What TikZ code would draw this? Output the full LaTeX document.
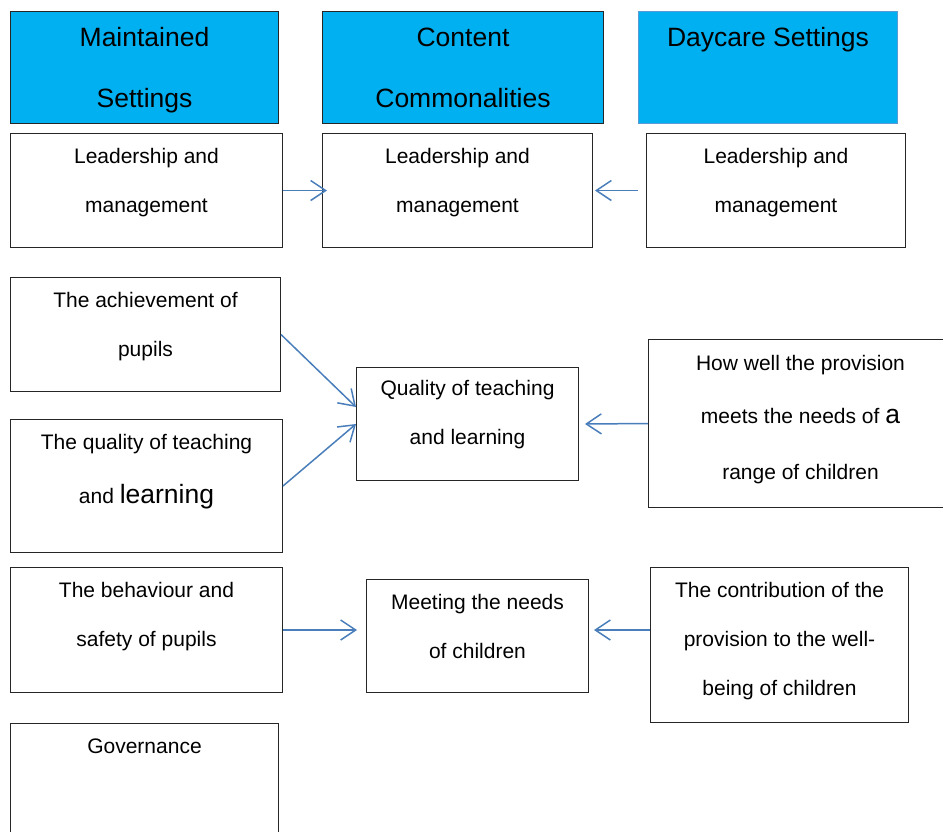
\documentclass[tikz,border=0pt]{standalone}
\usepackage{fontspec}
\setmainfont{Liberation Sans}
\usetikzlibrary{arrows.meta}
\definecolor{headblue}{HTML}{00B0F0}
\definecolor{linkblue}{HTML}{4A7EBB}
\definecolor{dayline}{HTML}{5B9BD5}
\def\celltext#1#2#3#4{\parbox[t][#2][t]{#1}{\centering\rule{0pt}{#3}#4}}

\begin{document}
\begin{tikzpicture}[x=1pt,y=-1pt,
	cell/.style={draw=black!85,line width=1pt,inner sep=0pt,anchor=north west,font=\fontsize{21}{49}\selectfont},
	head/.style={cell,fill=headblue,font=\fontsize{26.5}{61}\selectfont},
	link/.style={draw=linkblue,line width=1.5pt,-{Straight Barb[length=15pt,width=20pt]}}]
				%%%%% START %%%%%
				\clip (0,0) rectangle (943,831);
				
				% headings
				\node[head] (mhead) at (10,11) {\celltext{268pt}{112pt}{35pt}{Maintained\\Settings}};
				\node[head] (chead) at (322,11) {\celltext{281pt}{112pt}{35pt}{Content\\Commonalities}};
				\node[head,draw=dayline] (dhead) at (638,11) {\celltext{259pt}{112pt}{35pt}{Daycare Settings}};
				
				% maintained settings
				\node[cell] (mlead) at (10,133) {\celltext{272pt}{114pt}{30pt}{Leadership and\\management}};
				\node[cell] (ach) at (10,277) {\celltext{270pt}{114pt}{30pt}{The achievement of\\pupils}};
				\node[cell] (mqual) at (10,419) {\celltext{272pt}{133pt}{30pt}{The quality of teaching\\[5pt]and {\fontsize{26.5}{49}\selectfont learning}}};
				\node[cell] (beh) at (10,567) {\celltext{272pt}{125pt}{30pt}{The behaviour and\\safety of pupils}};
				\node[cell] (gov) at (10,723) {\celltext{268pt}{140pt}{30pt}{Governance}};
				
				% commonalities
				\node[cell] (clead) at (322,133) {\celltext{270pt}{114pt}{30pt}{Leadership and\\management}};
				\node[cell] (cqual) at (356,367) {\celltext{222pt}{113pt}{28pt}{Quality of teaching\\and learning}};
				\node[cell] (cmeet) at (366,579) {\celltext{222pt}{113pt}{30pt}{Meeting the needs\\of children}};
				
				% daycare settings
				\node[cell] (dlead) at (646,133) {\celltext{259pt}{114pt}{30pt}{Leadership and\\management}};
				\node[cell] (dprov) at (648,339) {\celltext{304pt}{168pt}{31pt}{How well the provision\\[4pt]meets the needs of {\fontsize{26.5}{49}\selectfont a}\\[7pt]range of children}};
				\node[cell] (dcontr) at (650,567) {\celltext{258pt}{155pt}{30pt}{The contribution of the\\provision to the well-\\being of children}};
				
				% arrows
				\draw[link] (mlead.east) -- ([xshift=5pt]clead.west);
				\draw[link] ([xshift=-8pt]dlead.west) -- ([xshift=2pt]clead.east);
				\draw[link] (ach.east) -- ([yshift=17pt]cqual.west);
				\draw[link] (mqual.east) -- (cqual.west);
				\draw[link] (dprov.west) -- ([xshift=6pt]cqual.east);
				\draw[link] (beh.east) -- ([xshift=-9pt]beh.east -| cmeet.west);
				\draw[link] (dcontr.west |- beh.east) -- ([xshift=5pt]cmeet.east |- beh.east);
				%%%%% END %%%%%
\end{tikzpicture}
\end{document}
